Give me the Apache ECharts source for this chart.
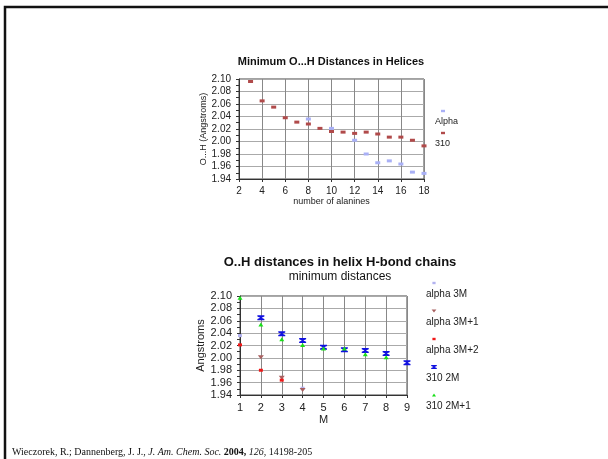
<!DOCTYPE html>
<html>
<head>
<meta charset="utf-8">
<script src="https://cdn.jsdelivr.net/npm/echarts@6/dist/echarts.min.js"></script>
<style>
  html, body { margin: 0; padding: 0; background: #fff; }
  #chart { width: 608px; height: 459px; }
</style>
</head>
<body>
<div id="chart"></div>
<script>
// Upper panel: minimum O...H distance vs. number of alanines
const alaninesAlpha = [8, 10, 12, 13, 14, 15, 16, 17, 18];
const distAlpha = [2.036, 2.021, 2.002, 1.980, 1.966, 1.969, 1.964, 1.951, 1.949];
const alanines310 = [3, 4, 5, 6, 7, 8, 9, 10, 11, 12, 13, 14, 15, 16, 17, 18];
const dist310 = [2.096, 2.065, 2.055, 2.038, 2.031, 2.028, 2.021, 2.016, 2.015, 2.013, 2.015, 2.012, 2.007, 2.007, 2.002, 1.993];
const upperNames = ['Alpha', '310'];

// Lower panel: distances in H-bond chains vs. M
const mAlpha3M = [1, 4];
const dAlpha3M = [2.036, 1.951];
const mAlpha3M1 = [2, 3, 4];
const dAlpha3M1 = [2.001, 1.968, 1.948];
const mAlpha3M2 = [1, 2, 3];
const dAlpha3M2 = [2.021, 1.980, 1.964];
const m310_2M = [2, 3, 4, 5, 6, 7, 8, 9];
const d310_2M = [2.065, 2.039, 2.028, 2.017, 2.013, 2.012, 2.007, 1.992];
const m310_2M1 = [1, 2, 3, 4, 5, 6, 7, 8];
const d310_2M1 = [2.097, 2.054, 2.030, 2.021, 2.015, 2.015, 2.006, 2.001];
const lowerNames = ['alpha 3M', 'alpha 3M+1', 'alpha 3M+2', '310 2M', '310 2M+1'];

const zip = (xs, ys) => xs.map((x, i) => [x, ys[i]]);

const SANS = 'Liberation Sans';
const hourglass = 'path://M0,0 L10,0 L10,2 L6,4 L10,6 L10,8 L0,8 L0,6 L4,4 L0,2 Z';

const upperStyles = [
  { symbol: 'rect', size: [5, 3], color: '#a9b0f6', rotate: 0 },
  { symbol: 'rect', size: [5, 3], color: '#b04a4a', rotate: 0 }
];
const lowerStyles = [
  { symbol: 'rect', size: [4, 3], color: '#b3b3f0', rotate: 0 },
  { symbol: 'triangle', size: [6, 4], color: '#a86060', rotate: 180 },
  { symbol: 'rect', size: [4, 3], color: '#f01818', rotate: 0 },
  { symbol: hourglass, size: [7, 5], color: '#1010e0', rotate: 0 },
  { symbol: 'triangle', size: [5, 4], color: '#18e018', rotate: 0 }
];

const upperData = [zip(alaninesAlpha, distAlpha), zip(alanines310, dist310)];
const lowerData = [
  zip(mAlpha3M, dAlpha3M), zip(mAlpha3M1, dAlpha3M1), zip(mAlpha3M2, dAlpha3M2),
  zip(m310_2M, d310_2M), zip(m310_2M1, d310_2M1)
];

function yAxisCfg(gridIndex, name, fontSize, nameSize, nameGap) {
  return {
    type: 'value', gridIndex, min: 1.94, max: 2.10, interval: 0.02,
    name, nameLocation: 'middle', nameGap, nameRotate: 90,
    nameTextStyle: { fontFamily: SANS, fontSize: nameSize, color: '#222' },
    axisLine: { show: true, lineStyle: { color: '#333', width: 1 } },
    axisTick: { show: true, inside: false, length: 3, lineStyle: { color: '#333' } },
    minorTick: { show: true, splitNumber: 2, length: 3, lineStyle: { color: '#333' } },
    axisLabel: { fontFamily: SANS, fontSize, color: '#222', margin: 8,
      formatter: v => v.toFixed(2) },
    splitLine: { show: true, lineStyle: { color: '#aaa', width: 1 } }
  };
}
function xAxisCfg(gridIndex, min, max, interval, name, fontSize, nameSize, nameGap) {
  return {
    type: 'value', gridIndex, min, max, interval,
    name, nameLocation: 'middle', nameGap,
    nameTextStyle: { fontFamily: SANS, fontSize: nameSize, color: '#222' },
    axisLine: { show: true, onZero: false, lineStyle: { color: '#333', width: 1 } },
    axisTick: { show: true, length: 3, lineStyle: { color: '#333' } },
    axisLabel: { fontFamily: SANS, fontSize, color: '#222', margin: 7 },
    splitLine: { show: true, lineStyle: { color: '#888', width: 1 } }
  };
}

const series = [];
upperNames.forEach((n, i) => {
  const s = upperStyles[i];
  series.push({ type: 'scatter', name: n, xAxisIndex: 0, yAxisIndex: 0,
    symbol: s.symbol, symbolSize: s.size, symbolRotate: s.rotate,
    itemStyle: { color: s.color, opacity: 1 }, data: upperData[i], z: 3 });
});
lowerNames.forEach((n, i) => {
  const s = lowerStyles[i];
  series.push({ type: 'scatter', name: n, xAxisIndex: 1, yAxisIndex: 1,
    symbol: s.symbol, symbolSize: s.size, symbolRotate: s.rotate,
    itemStyle: { color: s.color, opacity: 1 }, data: lowerData[i], z: 3 });
});

// Legend entries: symbol sitting above its label
function legendItems(names, styles, x, y0, step, fontSize) {
  const out = [];
  names.forEach((n, i) => {
    const s = styles[i];
    const cy = y0 + i * step;
    let shape;
    const w = s.size[0] * 0.8, h = s.size[1] * 0.8;
    if (s.symbol === 'rect') {
      shape = { type: 'rect', shape: { x: x + 8 - w / 2, y: cy - h / 2, width: w, height: h },
        style: { fill: s.color } };
    } else if (s.symbol === 'triangle') {
      const up = s.rotate === 0;
      const pts = up
        ? [[x + 8 - w / 2, cy + h / 2], [x + 8 + w / 2, cy + h / 2], [x + 8, cy - h / 2]]
        : [[x + 8 - w / 2, cy - h / 2], [x + 8 + w / 2, cy - h / 2], [x + 8, cy + h / 2]];
      shape = { type: 'polygon', shape: { points: pts }, style: { fill: s.color } };
    } else {
      const l = x + 8 - w / 2, t = cy - h / 2;
      shape = { type: 'polygon', shape: { points: [
        [l, t], [l + w, t], [l + w, t + h * 0.25], [l + w * 0.6, t + h * 0.5],
        [l + w, t + h * 0.75], [l + w, t + h], [l, t + h], [l, t + h * 0.75],
        [l + w * 0.4, t + h * 0.5], [l, t + h * 0.25]] }, style: { fill: s.color } };
    }
    out.push(shape);
    out.push({ type: 'text', x: x, y: cy + 11,
      style: { text: n, fontFamily: SANS, fontSize, fill: '#222', verticalAlign: 'middle' } });
  });
  return out;
}

const chart = echarts.init(document.getElementById('chart'), null, { renderer: 'canvas' });
chart.setOption({
  animation: false,
  backgroundColor: '#fff',
  grid: [
    { left: 239, top: 79, width: 185, height: 100, show: true, borderColor: '#444', borderWidth: 1 },
    { left: 240, top: 296, width: 167, height: 99, show: true, borderColor: '#444', borderWidth: 1 }
  ],
  xAxis: [
    xAxisCfg(0, 2, 18, 2, 'number of alanines', 10, 9, 18),
    xAxisCfg(1, 1, 9, 1, 'M', 11, 11, 19)
  ],
  yAxis: [
    yAxisCfg(0, 'O...H (Angstroms)', 10, 9, 29),
    yAxisCfg(1, 'Angstroms', 11, 11, 31)
  ],
  series,
  graphic: [
    // page frame
    { type: 'polyline', shape: { points: [[5, 459], [5, 7], [608, 7]] },
      style: { stroke: '#111', lineWidth: 2.5, fill: null } },
    { type: 'text', x: 331, y: 62,
      style: { text: 'Minimum O...H Distances in Helices', fontFamily: SANS, fontWeight: 'bold',
        fontSize: 11, fill: '#111', align: 'center', verticalAlign: 'middle' } },
    { type: 'text', x: 340, y: 262,
      style: { text: 'O..H distances in helix H-bond chains', fontFamily: SANS, fontWeight: 'bold',
        fontSize: 13, fill: '#111', align: 'center', verticalAlign: 'middle' } },
    { type: 'text', x: 340, y: 277,
      style: { text: 'minimum distances', fontFamily: SANS,
        fontSize: 12, fill: '#111', align: 'center', verticalAlign: 'middle' } },
    ...legendItems(upperNames, upperStyles, 435, 111, 22, 9),
    ...legendItems(lowerNames, lowerStyles, 426, 283, 28, 10),
    { type: 'text', x: 12, y: 452,
      style: {
        text: '{r|Wieczorek, R.; Dannenberg, J. J., }{i|J. Am. Chem. Soc.}{r| }{b|2004,}{r| }{i|126}{r|, 14198-205}',
        verticalAlign: 'middle',
        rich: {
          r: { fontFamily: 'Liberation Serif', fontSize: 10, fill: '#111' },
          i: { fontFamily: 'Liberation Serif', fontSize: 10, fontStyle: 'italic', fill: '#111' },
          b: { fontFamily: 'Liberation Serif', fontSize: 10, fontWeight: 'bold', fill: '#111' }
        }
      } }
  ]
});
</script>
</body>
</html>
